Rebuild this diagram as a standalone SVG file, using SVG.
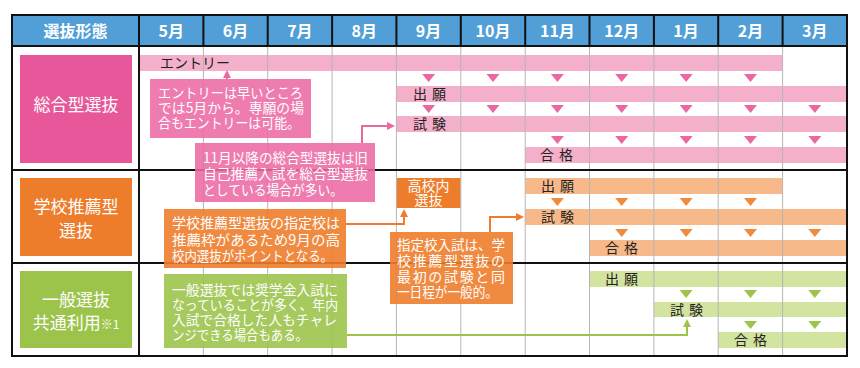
<svg xmlns="http://www.w3.org/2000/svg" width="860" height="368" viewBox="0 0 860 368">
<style>
  .hdr{fill:#519fd6}
  .hdrtxt{font-family:"Noto Sans CJK JP","Noto Sans",sans-serif;font-size:16px;font-weight:bold;fill:#fff;text-anchor:middle}
  .lbl{font-family:"Noto Sans CJK JP","Noto Sans",sans-serif;font-size:17px;fill:#fff;text-anchor:middle}
  .bartxt{font-family:"Noto Sans CJK JP","Noto Sans",sans-serif;font-size:14px;fill:#222;letter-spacing:5px}
  .ctxt{font-family:"Noto Sans CJK JP","Noto Sans",sans-serif;font-size:14px;fill:#fff}
  .grid{stroke:#b5b5b5;stroke-width:1}
  .blk{stroke:#111;stroke-width:2}
  .pinkD{fill:#e8579a}
  .pinkC{fill:#ec6aa4;fill-opacity:0.88}
  .pinkL{fill:#f4afcb}
  .orgD{fill:#ee7d2b}
  .orgC{fill:#ee7d2b;fill-opacity:0.9}
  .orgL{fill:#f8b98a}
  .grnD{fill:#9cc44b}
  .grnC{fill:#9cc44b;fill-opacity:0.9}
  .grnL{fill:#d3e3a0}
  .conn{fill:none;stroke-width:2}
</style>
<defs>
  <path id="tri" d="M-6.5,0 L6.5,0 L0,8 Z"/>
  <marker id="ahP" markerUnits="userSpaceOnUse" markerWidth="8" markerHeight="8" viewBox="0 0 8 8" refX="6" refY="4" orient="auto"><path d="M0,0 L8,4 L0,8 Z" fill="#e9689f"/></marker>
  <marker id="ahO" markerUnits="userSpaceOnUse" markerWidth="8" markerHeight="8" viewBox="0 0 8 8" refX="6" refY="4" orient="auto"><path d="M0,0 L8,4 L0,8 Z" fill="#ee7d2b"/></marker>
  <marker id="ahG" markerUnits="userSpaceOnUse" markerWidth="8" markerHeight="8" viewBox="0 0 8 8" refX="6" refY="4" orient="auto"><path d="M0,0 L8,4 L0,8 Z" fill="#9cc44b"/></marker>
</defs>
<rect x="0" y="0" width="860" height="368" fill="#fff"/>

<!-- header -->
<g id="header">
  <rect class="hdr" x="12" y="15" width="835" height="31"/>
  <text class="hdrtxt" x="75.5" y="37">選抜形態</text>
  <text class="hdrtxt" x="171.2" y="37">5月</text>
  <text class="hdrtxt" x="235.5" y="37">6月</text>
  <text class="hdrtxt" x="299.9" y="37">7月</text>
  <text class="hdrtxt" x="364.3" y="37">8月</text>
  <text class="hdrtxt" x="428.6" y="37">9月</text>
  <text class="hdrtxt" x="493" y="37">10月</text>
  <text class="hdrtxt" x="557.4" y="37">11月</text>
  <text class="hdrtxt" x="621.7" y="37">12月</text>
  <text class="hdrtxt" x="686.1" y="37">1月</text>
  <text class="hdrtxt" x="750.5" y="37">2月</text>
  <text class="hdrtxt" x="814.8" y="37">3月</text>
</g>

<!-- row labels -->
<g id="label-sogo"><rect class="pinkD" x="20" y="55" width="112" height="108"/><text class="lbl" x="76" y="111">総合型選抜</text></g>
<g id="label-suisen"><rect class="orgD" x="20" y="178" width="112" height="78"/><text class="lbl" x="76" y="213">学校推薦型</text><text class="lbl" x="76" y="237">選抜</text></g>
<g id="label-ippan"><rect class="grnD" x="20" y="271" width="112" height="77"/><text class="lbl" x="76" y="306">一般選抜</text><text class="lbl" x="76" y="329">共通利用<tspan font-size="12">※1</tspan></text></g>

<!-- bars row 1 -->
<g id="bar-entry"><rect class="pinkL" x="140" y="55" width="642.6" height="16"/><text class="bartxt" x="160" y="68" style="letter-spacing:0">エントリー</text></g>
<g id="bar-sogo-shutsugan"><rect class="pinkL" x="396.4" y="86" width="450.6" height="16"/><text class="bartxt" x="413" y="99">出願</text></g>
<g id="bar-sogo-shiken"><rect class="pinkL" x="396.4" y="116" width="450.6" height="16"/><text class="bartxt" x="413" y="129">試験</text></g>
<g id="bar-sogo-gokaku"><rect class="pinkL" x="525.2" y="147" width="321.8" height="16"/><text class="bartxt" x="540" y="160">合格</text></g>
<g id="tri-sogo" fill="#ea689f">
  <use href="#tri" x="428.6" y="74"/><use href="#tri" x="493" y="74"/><use href="#tri" x="557.4" y="74"/><use href="#tri" x="621.7" y="74"/><use href="#tri" x="686.1" y="74"/><use href="#tri" x="750.5" y="74"/>
  <use href="#tri" x="428.6" y="105"/><use href="#tri" x="493" y="105"/><use href="#tri" x="557.4" y="105"/><use href="#tri" x="621.7" y="105"/><use href="#tri" x="686.1" y="105"/><use href="#tri" x="750.5" y="105"/><use href="#tri" x="814.8" y="105"/>
  <use href="#tri" x="557.4" y="136"/><use href="#tri" x="621.7" y="136"/><use href="#tri" x="686.1" y="136"/><use href="#tri" x="750.5" y="136"/><use href="#tri" x="814.8" y="136"/>
</g>

<!-- bars row 2 -->
<g id="box-konai"><rect class="orgD" x="396.4" y="178" width="64.4" height="30"/><text class="ctxt" font-size="13" x="428.6" y="191" text-anchor="middle">高校内</text><text class="ctxt" font-size="13" x="428.6" y="205" text-anchor="middle">選抜</text></g>
<g id="bar-suisen-shutsugan"><rect class="orgL" x="525.2" y="178" width="257.4" height="16"/><text class="bartxt" x="541" y="191">出願</text></g>
<g id="bar-suisen-shiken"><rect class="orgL" x="525.2" y="209" width="321.8" height="16"/><text class="bartxt" x="541" y="222">試験</text></g>
<g id="bar-suisen-gokaku"><rect class="orgL" x="589.5" y="240" width="257.5" height="16"/><text class="bartxt" x="605" y="253">合格</text></g>
<g id="tri-suisen" fill="#f08a3c">
  <use href="#tri" x="557.4" y="198"/><use href="#tri" x="621.7" y="198"/><use href="#tri" x="686.1" y="198"/><use href="#tri" x="750.5" y="198"/>
  <use href="#tri" x="621.7" y="229"/><use href="#tri" x="686.1" y="229"/><use href="#tri" x="750.5" y="229"/><use href="#tri" x="814.8" y="229"/>
</g>

<!-- bars row 3 -->
<g id="bar-ippan-shutsugan"><rect class="grnL" x="589.5" y="271" width="257.5" height="16"/><text class="bartxt" x="605" y="284">出願</text></g>
<g id="bar-ippan-shiken"><rect class="grnL" x="653.9" y="302" width="193.1" height="15"/><text class="bartxt" x="670" y="315">試験</text></g>
<g id="bar-ippan-gokaku"><rect class="grnL" x="718.2" y="332" width="128.8" height="16"/><text class="bartxt" x="734" y="345">合格</text></g>
<g id="tri-ippan" fill="#9cc44b">
  <use href="#tri" x="686.1" y="290"/><use href="#tri" x="750.5" y="290"/><use href="#tri" x="814.8" y="290"/>
  <use href="#tri" x="750.5" y="321"/><use href="#tri" x="814.8" y="321"/>
</g>

<!-- grid -->
<g id="grid">
  <g class="grid">
    <line x1="203.4" y1="46" x2="203.4" y2="356"/><line x1="267.7" y1="46" x2="267.7" y2="356"/><line x1="332.1" y1="46" x2="332.1" y2="356"/><line x1="396.4" y1="46" x2="396.4" y2="356"/><line x1="460.8" y1="46" x2="460.8" y2="356"/><line x1="525.2" y1="46" x2="525.2" y2="356"/><line x1="589.5" y1="46" x2="589.5" y2="356"/><line x1="653.9" y1="46" x2="653.9" y2="356"/><line x1="718.2" y1="46" x2="718.2" y2="356"/><line x1="782.6" y1="46" x2="782.6" y2="356"/>
  </g>
  <g class="blk">
    <line x1="203.4" y1="15" x2="203.4" y2="46"/><line x1="267.7" y1="15" x2="267.7" y2="46"/><line x1="332.1" y1="15" x2="332.1" y2="46"/><line x1="396.4" y1="15" x2="396.4" y2="46"/><line x1="460.8" y1="15" x2="460.8" y2="46"/><line x1="525.2" y1="15" x2="525.2" y2="46"/><line x1="589.5" y1="15" x2="589.5" y2="46"/><line x1="653.9" y1="15" x2="653.9" y2="46"/><line x1="718.2" y1="15" x2="718.2" y2="46"/><line x1="782.6" y1="15" x2="782.6" y2="46"/>
    <line x1="139" y1="15" x2="139" y2="356"/>
    <line x1="12" y1="46" x2="847" y2="46"/>
    <line x1="12" y1="170" x2="847" y2="170"/>
    <line x1="12" y1="263" x2="847" y2="263"/>
    <rect x="12" y="15" width="835" height="341" fill="none"/>
  </g>
</g>

<!-- callouts -->
<g id="note-entry"><rect class="pinkC" x="150" y="79" width="161" height="59"/>
  <text class="ctxt" font-size="13.5" x="158" y="98" textLength="145" lengthAdjust="spacingAndGlyphs">エントリーは早いところ</text>
  <text class="ctxt" font-size="13.5" x="158" y="113" textLength="146" lengthAdjust="spacingAndGlyphs">では5月から。専願の場</text>
  <text class="ctxt" font-size="13.5" x="158" y="128" textLength="142" lengthAdjust="spacingAndGlyphs">合もエントリーは可能。</text></g>
<g id="note-sogo"><rect class="pinkC" x="195" y="143" width="180" height="59"/>
  <text class="ctxt" x="203" y="163" textLength="165" lengthAdjust="spacingAndGlyphs">11月以降の総合型選抜は旧</text>
  <text class="ctxt" x="203" y="179" textLength="165" lengthAdjust="spacingAndGlyphs">自己推薦入試を総合型選抜</text>
  <text class="ctxt" x="203" y="195" textLength="140" lengthAdjust="spacingAndGlyphs">としている場合が多い。</text></g>
<g id="note-shiteiko"><rect class="orgC" x="164" y="209" width="182" height="59"/>
  <text class="ctxt" x="172" y="228" textLength="168" lengthAdjust="spacingAndGlyphs">学校推薦型選抜の指定校は</text>
  <text class="ctxt" x="172" y="245" textLength="168" lengthAdjust="spacingAndGlyphs">推薦枠があるため9月の高</text>
  <text class="ctxt" x="172" y="261" textLength="161" lengthAdjust="spacingAndGlyphs">校内選抜がポイントとなる。</text></g>
<g id="note-shitei-nyushi"><rect class="orgC" x="390" y="232" width="123" height="72"/>
  <text class="ctxt" x="397" y="250" textLength="108" lengthAdjust="spacingAndGlyphs">指定校入試は、学</text>
  <text class="ctxt" x="397" y="266" textLength="108" lengthAdjust="spacing">校推薦型選抜の</text>
  <text class="ctxt" x="397" y="282" textLength="108" lengthAdjust="spacing">最初の試験と同</text>
  <text class="ctxt" x="397" y="297" textLength="101" lengthAdjust="spacingAndGlyphs">一日程が一般的。</text></g>
<g id="note-ippan"><rect class="grnC" x="164" y="274" width="183" height="74"/>
  <text class="ctxt" x="172" y="295" textLength="166" lengthAdjust="spacingAndGlyphs">一般選抜では奨学金入試に</text>
  <text class="ctxt" x="172" y="310" textLength="166" lengthAdjust="spacingAndGlyphs">なっていることが多く、年内</text>
  <text class="ctxt" x="172" y="325" textLength="165" lengthAdjust="spacingAndGlyphs">入試で合格した人もチャレ</text>
  <text class="ctxt" x="172" y="340" textLength="136" lengthAdjust="spacingAndGlyphs">ンジできる場合もある。</text></g>

<!-- connectors -->
<g id="connectors">
  <path class="conn" stroke="#e9689f" d="M227,79 V72" marker-end="url(#ahP)"/>
  <path class="conn" stroke="#e9689f" d="M362,143 V126 H393" marker-end="url(#ahP)"/>
  <path class="conn" stroke="#ee7d2b" d="M346,224 H404 V211" marker-end="url(#ahO)"/>
  <path class="conn" stroke="#ee7d2b" d="M490,232 V217 H522" marker-end="url(#ahO)"/>
  <path class="conn" stroke="#9cc44b" d="M347,335 H687 V321" marker-end="url(#ahG)"/>
</g>
</svg>
